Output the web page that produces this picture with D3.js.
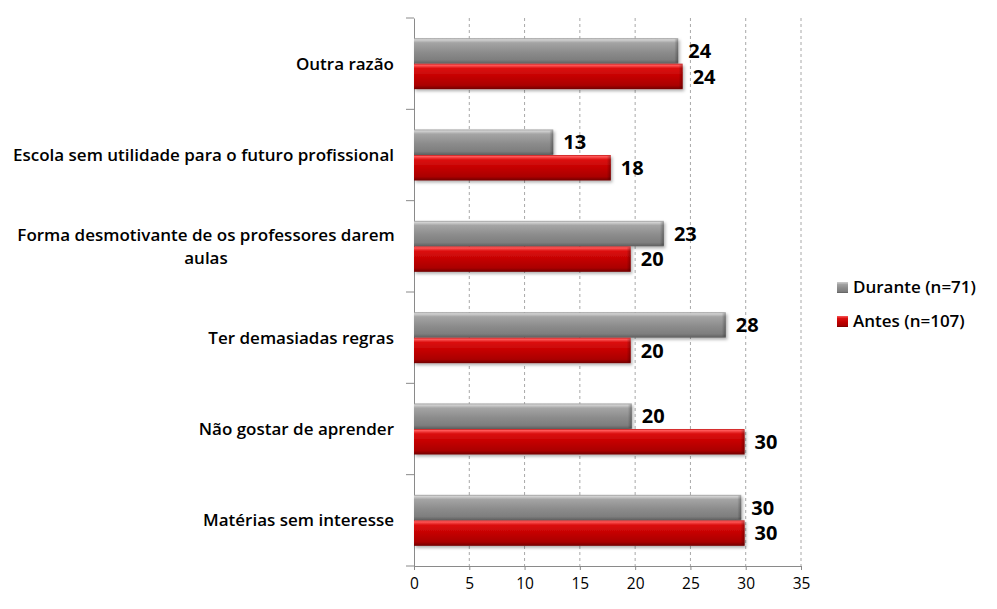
<!DOCTYPE html>
<html><head><meta charset="utf-8">
<script src="https://cdn.jsdelivr.net/npm/d3@7"></script>
<style>
html,body{margin:0;padding:0;background:#fff;}
svg{display:block;font-family:"Open Sans",sans-serif;}
</style></head>
<body><svg id="c" width="997" height="609"></svg>
<script>
const categories = ["Outra razão","Escola sem utilidade para o futuro profissional","Forma desmotivante de os professores darem aulas","Ter demasiadas regras","Não gostar de aprender","Matérias sem interesse"];
const categoryLines = [["Outra razão"],["Escola sem utilidade para o futuro profissional"],["Forma desmotivante de os professores darem","aulas"],["Ter demasiadas regras"],["Não gostar de aprender"],["Matérias sem interesse"]];
const series = ["Durante (n=71)","Antes (n=107)"];
const durante = [23.9, 12.6, 22.6, 28.2, 19.7, 29.6];
const antes = [24.3, 17.8, 19.6, 19.6, 29.9, 29.9];
const xTicks = [0,5,10,15,20,25,30,35];

(function(){
const svg = d3.select("#c");
const pL = 414, pR = 801, pT = 18, pB = 566;
const x = d3.scaleLinear().domain([0,35]).range([pL,pR]);
const y = d3.scaleBand().domain(categories).range([pT,pB]).padding(0);
const bw = y.bandwidth();
const groupH = 51;
const ys = d3.scaleBand().domain(series).range([bw/2-groupH/2, bw/2+groupH/2]).padding(0);

const defs = svg.append("defs");
function vgrad(id, stops){
  const g = defs.append("linearGradient").attr("id",id).attr("x1",0).attr("y1",0).attr("x2",0).attr("y2",1);
  stops.forEach(s=>g.append("stop").attr("offset",s[0]).attr("stop-color",s[1]));
}
vgrad("gGray",[[0,"#9a9a9a"],[0.06,"#d2d2d2"],[0.18,"#a4a4a4"],[0.55,"#8c8c8c"],[0.85,"#7e7e7e"],[1,"#5e5e5e"]]);
vgrad("gRed",[[0,"#c21a1a"],[0.06,"#ff5a5a"],[0.18,"#dc1010"],[0.55,"#c00000"],[0.85,"#aa0000"],[1,"#700000"]]);
const eg = defs.append("linearGradient").attr("id","gEnd").attr("x1",0).attr("y1",0).attr("x2",1).attr("y2",0);
eg.append("stop").attr("offset",0).attr("stop-color","#000").attr("stop-opacity",0);
eg.append("stop").attr("offset",1).attr("stop-color","#000").attr("stop-opacity",0.3);
const f = defs.append("filter").attr("id","sh").attr("x","-5%").attr("y","-20%").attr("width","110%").attr("height","150%");
f.append("feDropShadow").attr("dx",1.5).attr("dy",2).attr("stdDeviation",1.5).attr("flood-color","#000").attr("flood-opacity",0.3);

// gridlines
svg.append("g").selectAll("line").data(xTicks.filter(t=>t>0)).join("line")
  .attr("x1",d=>x(d)).attr("x2",d=>x(d)).attr("y1",pT).attr("y2",pB)
  .attr("stroke","#a8a8a8").attr("stroke-width",1).attr("stroke-dasharray","3,3");

// x axis
const xa = svg.append("g").attr("transform",`translate(0,${pB})`)
  .call(d3.axisBottom(x).tickValues(xTicks).tickSize(4).tickPadding(8));
xa.select(".domain").attr("stroke","#8a8a8a");
xa.selectAll(".tick line").attr("stroke","#8a8a8a");
xa.selectAll("text").attr("font-size",15.5).attr("fill","#000").attr("font-family","Open Sans");

// y axis
const ya = svg.append("g").attr("transform",`translate(${pL},0)`)
  .call(d3.axisLeft(y).tickValues([]).tickSizeOuter(0));
ya.select(".domain").attr("stroke","#8a8a8a");
const bounds = d3.range(categories.length+1).map(i=> pT + i*bw);
svg.append("g").selectAll("line").data(bounds).join("line")
  .attr("x1",pL-8).attr("x2",pL).attr("y1",d=>d).attr("y2",d=>d).attr("stroke","#8a8a8a");

// category labels
const cl = svg.append("g");
categories.forEach((c,i)=>{
  const lines = categoryLines[i];
  const cy = y(c)+bw/2;
  const lh = 23;
  const t = cl.append("text").attr("font-size",17).attr("font-weight",600).attr("fill","#000")
    .attr("text-anchor", lines.length>1 ? "middle":"end");
  lines.forEach((ln,j)=>{
    t.append("tspan").attr("x", lines.length>1 ? 206 : 394)
     .attr("y", cy + (j-(lines.length-1)/2)*lh).attr("dy","0.35em").text(ln);
  });
});

// bars
const data = [];
categories.forEach((c,i)=>{
  data.push({c, s:series[0], v:durante[i], fill:"url(#gGray)"});
  data.push({c, s:series[1], v:antes[i], fill:"url(#gRed)"});
});
const bars = svg.append("g").selectAll("g").data(data).join("g")
  .attr("transform",d=>`translate(0,${y(d.c)+ys(d.s)})`);
bars.append("rect").attr("x",x(0)).attr("y",0).attr("width",d=>x(d.v)-x(0)).attr("height",ys.bandwidth())
  .attr("fill",d=>d.fill).attr("filter","url(#sh)");
bars.append("rect").attr("x",d=>x(d.v)-4).attr("y",1).attr("width",4).attr("height",ys.bandwidth()-2)
  .attr("fill","url(#gEnd)");
bars.append("text").attr("x",d=>x(d.v)+10).attr("y",ys.bandwidth()/2).attr("dy","0.36em")
  .attr("font-size",20).attr("font-weight",700).attr("fill","#000")
  .text(d=>d3.format(".0f")(d.v));

// legend
const lg = svg.append("g").attr("transform","translate(837,287)");
const legItems = lg.selectAll("g").data(series).join("g").attr("transform",(d,i)=>`translate(0,${i*34})`);
legItems.append("rect").attr("x",0).attr("y",-5).attr("width",11).attr("height",11)
  .attr("fill",(d,i)=> i===0 ? "url(#gGray)" : "url(#gRed)");
legItems.append("text").attr("x",16).attr("y",0).attr("dy","0.35em").attr("font-size",17).attr("font-weight",600)
  .attr("fill","#000").text(d=>d);
})();
</script></body></html>
